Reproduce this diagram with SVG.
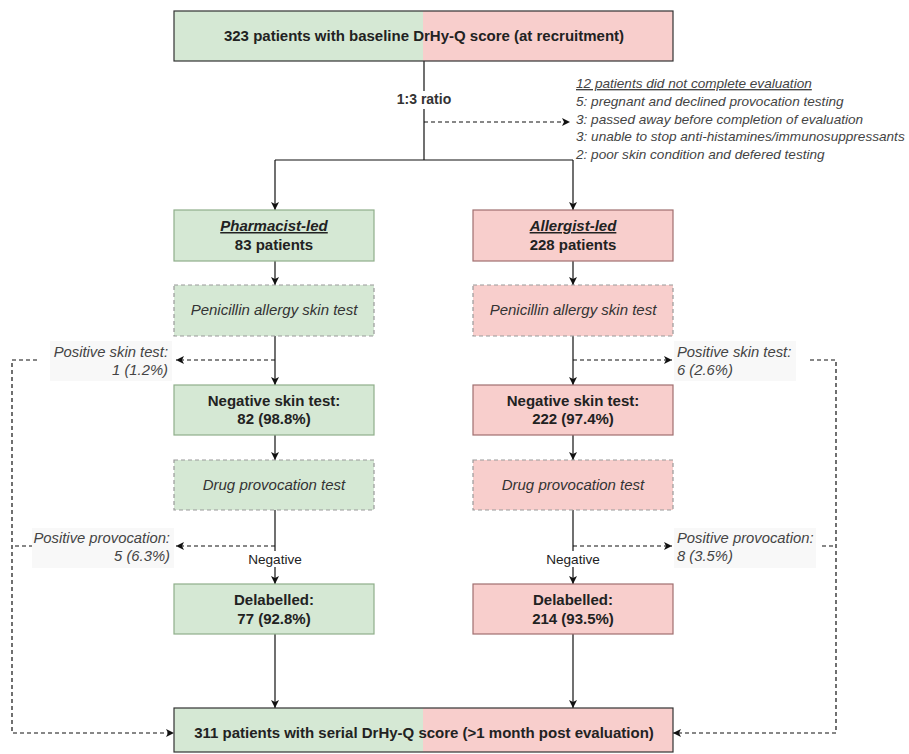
<svg xmlns="http://www.w3.org/2000/svg" width="909" height="754" viewBox="0 0 909 754">
<defs>
<marker id="ah" viewBox="0 0 10 10" refX="10" refY="5" markerWidth="8" markerHeight="8" markerUnits="userSpaceOnUse" orient="auto">
<path d="M0,0 L10,5 L0,10 L2.5,5 Z" fill="#111"/>
</marker>
<linearGradient id="split" x1="0" x2="1" y1="0" y2="0">
<stop offset="0.5" stop-color="#d5e8d4"/>
<stop offset="0.5" stop-color="#f8cecc"/>
</linearGradient>
</defs>
<style>
text{font-family:"Liberation Sans",Arial,sans-serif;}
.b{font-weight:bold;font-size:15px;fill:#222;}
.it{font-style:italic;font-size:15px;fill:#333;}
.note{font-style:italic;font-size:13.6px;fill:#444;}
.lbl{font-style:italic;font-size:14.8px;fill:#444;}
.sm{font-size:13.6px;fill:#222;}
.ratio{font-size:14px;font-weight:bold;fill:#333;}
.g{fill:#d5e8d4;stroke:#8fae8a;stroke-width:1.2;}
.r{fill:#f8cecc;stroke:#a06f6f;stroke-width:1.2;}
.gd{fill:#d5e8d4;stroke:#9a9a9a;stroke-width:1.2;stroke-dasharray:4 3;}
.rd{fill:#f8cecc;stroke:#9a9a9a;stroke-width:1.2;stroke-dasharray:4 3;}
.wide{fill:url(#split);stroke:#333;stroke-width:1.2;}
.ln{fill:none;stroke:#111;stroke-width:1.2;}
.dl{fill:none;stroke:#111;stroke-width:1.2;stroke-dasharray:4 3;}
.bg{fill:#f8f8f8;}
</style>
<rect width="909" height="754" fill="#ffffff"/>

<g id="connectors">
<path class="ln" d="M424,61 V160"/>
<path class="dl" d="M424,122 H570" marker-end="url(#ah)"/>
<path class="ln" d="M275,160 H573"/>
<path class="ln" d="M275,160 V210" marker-end="url(#ah)"/>
<path class="ln" d="M573,160 V210" marker-end="url(#ah)"/>
<path class="ln" d="M275,261 V285" marker-end="url(#ah)"/>
<path class="ln" d="M573,261 V285" marker-end="url(#ah)"/>
<path class="ln" d="M275,336 V385" marker-end="url(#ah)"/>
<path class="ln" d="M573,336 V385" marker-end="url(#ah)"/>
<path class="ln" d="M275,435 V460" marker-end="url(#ah)"/>
<path class="ln" d="M573,435 V460" marker-end="url(#ah)"/>
<path class="ln" d="M275,510 V584" marker-end="url(#ah)"/>
<path class="ln" d="M573,510 V584" marker-end="url(#ah)"/>
<path class="ln" d="M275,634 V708" marker-end="url(#ah)"/>
<path class="ln" d="M573,634 V708" marker-end="url(#ah)"/>
<path class="dl" d="M275,360 H176" marker-end="url(#ah)"/>
<path class="dl" d="M275,546 H176" marker-end="url(#ah)"/>
<path class="dl" d="M573,360 H672" marker-end="url(#ah)"/>
<path class="dl" d="M573,546 H672" marker-end="url(#ah)"/>
<path class="dl" d="M37,360 H12 V733 H174" marker-end="url(#ah)"/>
<path class="dl" d="M33,546 H12"/>
<path class="dl" d="M810,360 H836 V733 H673" marker-end="url(#ah)"/>
<path class="dl" d="M822,546 H836"/>
<rect x="245" y="551" width="60" height="16" fill="#ffffff"/>
<text class="sm" x="275" y="564" text-anchor="middle">Negative</text>
<rect x="543" y="551" width="60" height="16" fill="#ffffff"/>
<text class="sm" x="573" y="564" text-anchor="middle">Negative</text>
<rect x="394" y="91" width="60" height="18" fill="#ffffff"/>
<text class="ratio" x="424" y="104" text-anchor="middle">1:3 ratio</text>
</g>

<g id="top">
<rect class="wide" x="174" y="11" width="499" height="50"/>
<text class="b" x="424" y="41" text-anchor="middle">323 patients with baseline DrHy-Q score (at recruitment)</text>
</g>

<g id="note">
<text class="note" x="576" y="88" text-decoration="underline">12 patients did not complete evaluation</text>
<text class="note" x="576" y="106">5: pregnant and declined provocation testing</text>
<text class="note" x="576" y="124">3: passed away before completion of evaluation</text>
<text class="note" x="576" y="141">3: unable to stop anti-histamines/immunosuppressants</text>
<text class="note" x="576" y="159">2: poor skin condition and defered testing</text>
</g>

<g id="pharm">
<rect class="g" x="174" y="210" width="200" height="51"/>
<text class="b" x="274" y="231" text-anchor="middle" font-style="italic" text-decoration="underline">Pharmacist-led</text>
<text class="b" x="274" y="250" text-anchor="middle">83 patients</text>
</g>
<g id="allerg">
<rect class="r" x="473" y="210" width="200" height="51"/>
<text class="b" x="573" y="231" text-anchor="middle" font-style="italic" text-decoration="underline">Allergist-led</text>
<text class="b" x="573" y="250" text-anchor="middle">228 patients</text>
</g>

<g id="skinL">
<rect class="gd" x="174" y="285" width="200" height="51"/>
<text class="it" x="274" y="315" text-anchor="middle">Penicillin allergy skin test</text>
</g>
<g id="skinR">
<rect class="rd" x="473" y="285" width="200" height="51"/>
<text class="it" x="573" y="315" text-anchor="middle">Penicillin allergy skin test</text>
</g>

<g id="negL">
<rect class="g" x="174" y="385" width="200" height="50"/>
<text class="b" x="274" y="406" text-anchor="middle">Negative skin test:</text>
<text class="b" x="274" y="424" text-anchor="middle">82 (98.8%)</text>
</g>
<g id="negR">
<rect class="r" x="473" y="385" width="200" height="50"/>
<text class="b" x="573" y="406" text-anchor="middle">Negative skin test:</text>
<text class="b" x="573" y="424" text-anchor="middle">222 (97.4%)</text>
</g>

<g id="dptL">
<rect class="gd" x="174" y="460" width="200" height="50"/>
<text class="it" x="274" y="490" text-anchor="middle">Drug provocation test</text>
</g>
<g id="dptR">
<rect class="rd" x="473" y="460" width="200" height="50"/>
<text class="it" x="573" y="490" text-anchor="middle">Drug provocation test</text>
</g>

<g id="delL">
<rect class="g" x="174" y="584" width="200" height="50"/>
<text class="b" x="274" y="605" text-anchor="middle">Delabelled:</text>
<text class="b" x="274" y="624" text-anchor="middle">77 (92.8%)</text>
</g>
<g id="delR">
<rect class="r" x="473" y="584" width="200" height="50"/>
<text class="b" x="573" y="605" text-anchor="middle">Delabelled:</text>
<text class="b" x="573" y="624" text-anchor="middle">214 (93.5%)</text>
</g>

<g id="posSkinL">
<rect class="bg" x="50" y="341" width="122" height="40"/>
<text class="lbl" x="168" y="357" text-anchor="end">Positive skin test:</text>
<text class="lbl" x="168" y="375" text-anchor="end">1 (1.2%)</text>
</g>
<g id="posSkinR">
<rect class="bg" x="674" y="341" width="122" height="40"/>
<text class="lbl" x="677" y="357">Positive skin test:</text>
<text class="lbl" x="677" y="375">6 (2.6%)</text>
</g>
<g id="posProvL">
<rect class="bg" x="32" y="528" width="142" height="40"/>
<text class="lbl" x="170" y="543" text-anchor="end">Positive provocation:</text>
<text class="lbl" x="170" y="561" text-anchor="end">5 (6.3%)</text>
</g>
<g id="posProvR">
<rect class="bg" x="674" y="528" width="142" height="40"/>
<text class="lbl" x="677" y="543">Positive provocation:</text>
<text class="lbl" x="677" y="561">8 (3.5%)</text>
</g>

<g id="bottom">
<rect class="wide" x="174" y="708" width="499" height="44"/>
<text class="b" x="424" y="738" text-anchor="middle">311 patients with serial DrHy-Q score (&gt;1 month post evaluation)</text>
</g>
</svg>
